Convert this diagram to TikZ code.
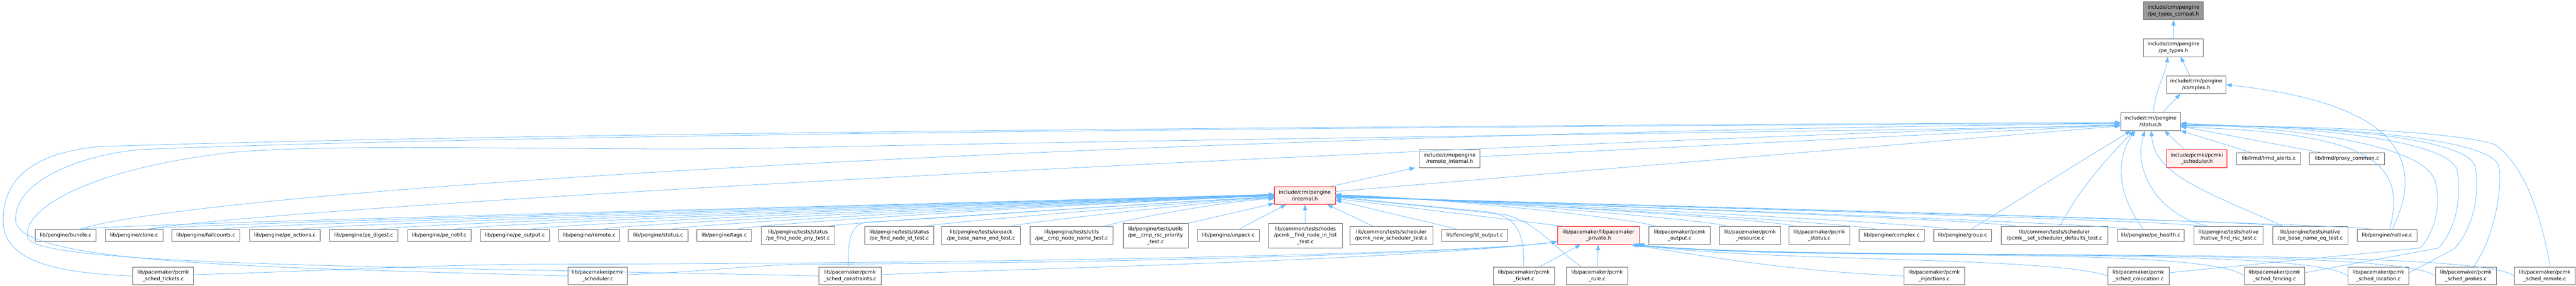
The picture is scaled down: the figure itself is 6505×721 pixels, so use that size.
\documentclass[tikz,border=0pt]{standalone}
\usepackage{fontspec}
\newfontfamily\dvs{DejaVu Sans}
\usetikzlibrary{arrows.meta,calc}
\definecolor{edgeblue}{HTML}{63B8FF}
\definecolor{bordergray}{HTML}{666666}
\definecolor{rootfill}{HTML}{999999}
\definecolor{rootborder}{HTML}{666666}
\definecolor{redfill}{HTML}{FFF0F0}
\begin{document}
\begin{tikzpicture}[x=1pt,y=-1pt,
  nd/.style={draw=bordergray,fill=white,line width=1pt,inner sep=0pt,align=center,font=\dvs\fontsize{12.8}{16.7}\selectfont},
  rootnd/.style={nd,fill=rootfill,draw=rootborder},
  rednd/.style={nd,fill=redfill,draw=red},
  s1/.style={minimum height=29pt}, s2/.style={minimum height=45pt}, s3/.style={minimum height=62pt},
  bw/.style={minimum width=#1pt},
  e/.style={draw=edgeblue,line width=1pt,line join=round,-{Triangle[length=14pt,width=10pt]}}]
\useasboundingbox[fill=white] (0,0) rectangle (6505,721);
% ---------- upper nodes
\node[rootnd,s2,bw=151] (compat) at (5488.5,27.5) {include/crm/pengine\\/pe\_types\_compat.h};
\node[nd,s2,bw=151] (petypes) at (5488.5,120.5) {include/crm/pengine\\/pe\_types.h};
\node[nd,s2,bw=150] (complexh) at (5546,214) {include/crm/pengine\\/complex.h};
\node[nd,s2,bw=151] (statush) at (5430.5,307) {include/crm/pengine\\/status.h};
\node[rednd,s2,bw=153] (pcmki) at (5547.5,400.5) {include/pcmki/pcmki\\\_scheduler.h};
\node[nd,s1,bw=162] (lrmdalerts) at (5729,400.5) {lib/lrmd/lrmd\_alerts.c};
\node[nd,s1,bw=189] (proxy) at (5926.5,400.5) {lib/lrmd/proxy\_common.c};
\node[nd,s2,bw=153] (remoteint) at (3660.5,400.5) {include/crm/pengine\\/remote\_internal.h};
\node[rednd,s2,bw=154] (internal) at (3295,493.5) {include/crm/pengine\\/internal.h};
% ---------- row A
\node[nd,s1,bw=154] (bundle) at (166,594.5) {lib/pengine/bundle.c};
\node[nd,s1,bw=145] (clone) at (338.5,594.5) {lib/pengine/clone.c};
\node[nd,s1,bw=171] (failcounts) at (519.5,594.5) {lib/pengine/failcounts.c};
\node[nd,s1,bw=179] (peactions) at (719.5,594.5) {lib/pengine/pe\_actions.c};
\node[nd,s1,bw=173] (pedigest) at (918.5,594.5) {lib/pengine/pe\_digest.c};
\node[nd,s1,bw=160] (penotif) at (1109,594.5) {lib/pengine/pe\_notif.c};
\node[nd,s1,bw=174] (peoutput) at (1300,594.5) {lib/pengine/pe\_output.c};
\node[nd,s1,bw=153] (remotec) at (1487.5,594.5) {lib/pengine/remote.c};
\node[nd,s1,bw=150] (statusc) at (1662,594.5) {lib/pengine/status.c};
\node[nd,s1,bw=137] (tags) at (1828.5,594.5) {lib/pengine/tags.c};
\node[nd,s2,bw=186] (findany) at (2015,594.5) {lib/pengine/tests/status\\/pe\_find\_node\_any\_test.c};
\node[nd,s2,bw=174] (findid) at (2271,594.5) {lib/pengine/tests/status\\/pe\_find\_node\_id\_test.c};
\node[nd,s2,bw=199] (nameend) at (2477.5,594.5) {lib/pengine/tests/unpack\\/pe\_base\_name\_end\_test.c};
\node[nd,s2,bw=210] (cmpnode) at (2706,594.5) {lib/pengine/tests/utils\\/pe\_\_cmp\_node\_name\_test.c};
\node[nd,s3,bw=164] (cmprsc) at (2918,595) {lib/pengine/tests/utils\\/pe\_\_cmp\_rsc\_priority\\\_test.c};
\node[nd,s1,bw=156] (unpack) at (3102,594.5) {lib/pengine/unpack.c};
\node[nd,s3,bw=185] (findlist) at (3296.5,595) {lib/common/tests/nodes\\/pcmk\_\_find\_node\_in\_list\\\_test.c};
\node[nd,s2,bw=209] (newsched) at (3513.5,594.5) {lib/common/tests/scheduler\\/pcmk\_new\_scheduler\_test.c};
\node[nd,s1,bw=166] (stoutput) at (3724,594.5) {lib/fencing/st\_output.c};
\node[rednd,s2,bw=207] (lpriv) at (4036.5,594.5) {lib/pacemaker/libpacemaker\\\_private.h};
\node[nd,s2,bw=155] (pout) at (4241.5,594.5) {lib/pacemaker/pcmk\\\_output.c};
\node[nd,s2,bw=155] (pres) at (4419.5,594.5) {lib/pacemaker/pcmk\\\_resource.c};
\node[nd,s2,bw=154] (pstat) at (4594,594.5) {lib/pacemaker/pcmk\\\_status.c};
\node[nd,s1,bw=166] (complexc) at (4777,594.5) {lib/pengine/complex.c};
\node[nd,s1,bw=146] (group) at (4956,594.5) {lib/pengine/group.c};
\node[nd,s2,bw=270] (setdef) at (5188,594.5) {lib/common/tests/scheduler\\/pcmk\_\_set\_scheduler\_defaults\_test.c};
\node[nd,s1,bw=170] (health) at (5431,594.5) {lib/pengine/pe\_health.c};
\node[nd,s2,bw=175] (nfind) at (5627.5,594.5) {lib/pengine/tests/native\\/native\_find\_rsc\_test.c};
\node[nd,s2,bw=190] (nameeq) at (5834,594.5) {lib/pengine/tests/native\\/pe\_base\_name\_eq\_test.c};
\node[nd,s1,bw=151] (native) at (6027.5,594.5) {lib/pengine/native.c};
% ---------- row B
\node[nd,s2,bw=154] (tickets) at (412,696.5) {lib/pacemaker/pcmk\\\_sched\_tickets.c};
\node[nd,s2,bw=150] (scheduler) at (1509,696.5) {lib/pacemaker/pcmk\\\_scheduler.c};
\node[nd,s2,bw=157] (constraints) at (2146.5,696.5) {lib/pacemaker/pcmk\\\_sched\_constraints.c};
\node[nd,s2,bw=154] (ticket) at (3848,696.5) {lib/pacemaker/pcmk\\\_ticket.c};
\node[nd,s2,bw=154] (rule) at (4033,696.5) {lib/pacemaker/pcmk\\\_rule.c};
\node[nd,s2,bw=154] (injections) at (4884,696.5) {lib/pacemaker/pcmk\\\_injections.c};
\node[nd,s2,bw=154] (colocation) at (5400,696.5) {lib/pacemaker/pcmk\\\_sched\_colocation.c};
\node[nd,s2,bw=153] (fencing) at (5743.5,696.5) {lib/pacemaker/pcmk\\\_sched\_fencing.c};
\node[nd,s2,bw=154] (location) at (6006,696.5) {lib/pacemaker/pcmk\\\_sched\_location.c};
\node[nd,s2,bw=154] (probes) at (6227,696.5) {lib/pacemaker/pcmk\\\_sched\_probes.c};
\node[nd,s2,bw=154] (sremote) at (6426,696.5) {lib/pacemaker/pcmk\\\_sched\_remote.c};
% ---------- edges: headers
\draw[e] (petypes) -- (compat);
\draw[e] ($(complexh.north)+(-16,0)$) -- ($(petypes.south)+(18,0)$);
\draw[e] ($(statush.north)+(7,0)$) .. controls +(5,-60) and +(-8,50) .. ($(petypes.south)+(-14,0)$);
\draw[e] ($(statush.north)+(30,0)$) -- ($(complexh.south)+(-40,0)$);
\draw[e] ($(pcmki.north)+(-31,0)$) -- ($(statush.south)+(35,0)$);
\draw[e] ($(lrmdalerts.north)+(-43,0)$) -- (statush.south east);
\draw[e] ($(proxy.north)+(-64,0)$) -- ($(statush.east)+(0,12)$);
\draw[e] ($(remoteint.east)+(0,-5)$) -- ($(statush.west)+(0,9)$);
\draw[e] ($(internal.east)+(0,-10)$) -- ($(statush.west)+(0,11)$);
\draw[e] ($(internal.north east)+(-12,0)$) -- ($(remoteint.south west)+(-10,0)$);
\draw[e] ($(lpriv.north west)+(18,0)$) -- ($(internal.east)+(0,8)$);
% ---------- row A (left) -> internal.h
\foreach \n/\o/\k in {bundle/32/-3,clone/30/-3,failcounts/35/-2,peactions/37/-2,pedigest/35/-1,penotif/34/-1,peoutput/36/0,remotec/32/0,statusc/31/1,tags/32/1}
  \draw[e] ($(\n.north)+(\o,0)$) .. controls +(25,-15) and +(-300,10) .. ($(internal.west)+(0,\k)$);
\foreach \n/\o/\k in {findany/73/3,findid/65/4,nameend/74/6,cmpnode/83/8}
  \draw[e] ($(\n.north)+(\o,0)$) .. controls +(15,-8) and +(-150,8) .. ($(internal.west)+(0,\k)$);
\draw[e] (cmprsc.north east) -- ($(internal.south west)+(0,-3)$);
\draw[e] ($(unpack.north)+(25,0)$) -- ($(internal.south west)+(30,0)$);
\draw[e] (findlist) -- (internal);
\draw[e] ($(newsched.north)+(-45,0)$) -- ($(internal.south east)+(-21,0)$);
\draw[e] ($(stoutput.north)+(-40,0)$) -- ($(internal.east)+(0,12)$);
% ---------- row A (right) -> internal.h
\foreach \n/\o/\k in {pout/-60/-2,pres/-57/-1,pstat/-59/0,complexc/-36/1,group/-32/1,setdef/-96/2,health/-50/2,nfind/-66/3,nameeq/-67/3,native/-32/4}
  \draw[e] ($(\n.north)+(\o,0)$) .. controls +(-25,-15) and +(300,10) .. ($(internal.east)+(0,\k)$);
% ---------- row A -> status.h
\draw[e] ($(bundle.north)+(32,0)$) .. controls (500,480) and (2800,340) .. ($(statush.west)+(0,5)$);
\draw[e] ($(clone.north)+(30,0)$) .. controls (700,520) and (3500,370) .. ($(statush.west)+(0,8)$);
\draw[e] ($(group.north)+(20,0)$) -- ($(statush.south west)+(26,0)$);
\draw[e] ($(setdef.north)+(13,0)$) .. controls (5255,470) and (5330,390) .. ($(statush.south west)+(34,0)$);
\draw[e] ($(health.north)+(-18,0)$) .. controls (5330,470) and (5355,380) .. ($(statush.south)+(-38,0)$);
\draw[e] ($(nfind.north)+(-50,0)$) .. controls (5450,545) and (5385,430) .. ($(statush.south)+(-14,0)$);
\draw[e] ($(nameeq.north)+(-67,0)$) .. controls (5560,480) and (5440,440) .. ($(statush.south)+(2,0)$);
\draw[e] ($(native.north)+(13,0)$) .. controls (6130,400) and (6050,260) .. (complexh.east);
\draw[e] ($(native.north)+(7,0)$) .. controls (6075,420) and (6010,335) .. ($(statush.east)+(0,14)$);
% ---------- row B -> status.h (around the left)
\draw[e] (tickets.west) .. controls (150,690) and (10,662) .. (8,560) .. controls (6,440) and (100,385) .. (250,370) .. controls (1500,330) and (4000,316) .. ($(statush.west)+(0,2)$);
\draw[e] (scheduler.west) .. controls (700,676) and (60,668) .. (40,560) .. controls (30,460) and (200,390) .. (361,377) .. controls (1500,333) and (4000,318) .. ($(statush.west)+(0,4)$);
\draw[e] (constraints.west) .. controls (900,672) and (90,668) .. (70,600) .. controls (55,520) and (250,420) .. (602,383) .. controls (900,362) and (1400,380) .. (1900,375) .. controls (3000,350) and (4500,335) .. ($(statush.west)+(0,10)$);
% ---------- row B -> status.h (around the right)
\draw[e] ($(colocation.east)+(0,-8)$) -- (6112,626) .. controls (6160,570) and (6160,500) .. (6150,460) .. controls (6130,380) and (5900,330) .. ($(statush.east)+(0,4)$);
\draw[e] ($(fencing.east)+(0,-8)$) -- (6159,626) .. controls (6205,570) and (6215,500) .. (6205,430) .. controls (6185,360) and (5900,322) .. ($(statush.east)+(0,6)$);
\draw[e] ($(location.east)+(0,-8)$) -- (6198,628) .. controls (6250,570) and (6262,480) .. (6250,420) .. controls (6230,350) and (5900,318) .. ($(statush.east)+(0,8)$);
\draw[e] ($(probes.north)+(19,0)$) .. controls (6300,600) and (6320,470) .. (6310,420) .. controls (6295,350) and (5900,316) .. ($(statush.east)+(0,10)$);
\draw[e] ($(sremote.north)+(14,0)$) .. controls (6420,560) and (6380,420) .. (6300,365) .. controls (6200,330) and (5800,316) .. ($(statush.east)+(0,12)$);
% ---------- row B -> internal.h
\draw[e] ($(constraints.north)+(-4,0)$) .. controls (2140,600) and (2150,565) .. (2190,561) .. controls (2400,550) and (3000,505) .. ($(internal.west)+(0,5)$);
\draw[e] (ticket.north) .. controls (3848,590) and (3835,550) .. (3760,535) .. controls (3600,520) and (3450,505) .. ($(internal.east)+(0,2)$);
\draw[e] ($(rule.north)+(-40,0)$) .. controls (3930,630) and (3880,560) .. (3800,542) .. controls (3650,525) and (3450,508) .. ($(internal.east)+(0,3)$);
% ---------- row B -> libpacemaker_private.h
\draw[e] ($(tickets.east)+(0,-3)$) .. controls (800,685) and (1100,667) .. (1400,667) .. controls (2600,665) and (3700,640) .. ($(lpriv.south west)+(0,-7)$);
\draw[e] ($(scheduler.east)+(0,-3)$) .. controls (1800,685) and (1900,668) .. (2050,667) .. controls (2800,665) and (3700,640) .. ($(lpriv.south west)+(0,-7)$);
\draw[e] ($(constraints.east)+(0,-3)$) .. controls (2500,680) and (3500,660) .. ($(lpriv.south west)+(0,-7)$);
\draw[e] ($(ticket.north)+(40,0)$) -- ($(lpriv.south)+(-45,0)$);
\draw[e] (rule) -- (lpriv);
\draw[e] (injections.west) .. controls +(-250,-10) and +(250,40) .. ($(lpriv.south east)+(-22,0)$);
\draw[e] (colocation.west) .. controls +(-150,-50) and +(350,45) .. ($(lpriv.south east)+(-18,0)$);
\foreach \n/\o in {fencing/-14,location/-10,probes/-6,sremote/-2}
  \draw[e] (\n.west) .. controls +(-100,-80) and +(400,45) .. ($(lpriv.south east)+(\o,0)$);
\end{tikzpicture}
\end{document}
